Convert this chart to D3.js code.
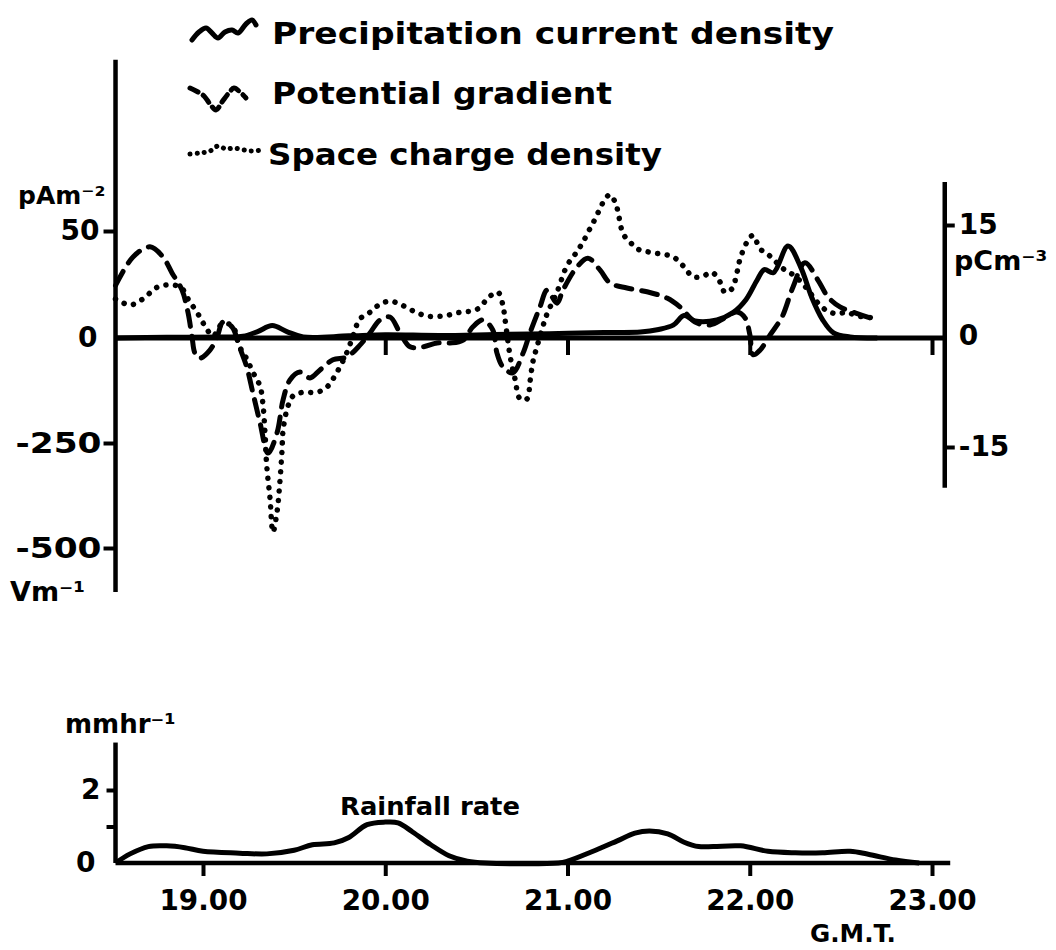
<!DOCTYPE html>
<html><head><meta charset="utf-8">
<script src="https://cdn.jsdelivr.net/npm/d3@7"></script>
<style>
body{margin:0;background:#fff}
svg{display:block}
text{font-family:"DejaVu Sans",sans-serif;font-weight:bold;fill:#000}
</style>
</head><body>
<svg id="c" width="1056" height="950"></svg>
<script>
// ---------------- data ----------------
const timeTicks = [19, 20, 21, 22, 23];
const timeTickLabels = ["19.00", "20.00", "21.00", "22.00", "23.00"];
const legendLabels = ["Precipitation current density", "Potential gradient", "Space charge density"];
const leftTicksCurrent = [0, 50];          // pA m^-2
const leftTicksPG = [-250, -500];          // V m^-1
const rightTicksSC = [15, 0, -15];         // pC m^-3
const rainTicks = [0, 1, 2];               // mm hr^-1
const rainTickLabels = ["0", "", "2"];

// precipitation current density [hour, pA m^-2]
const currentDensity = [
  [18.52,0],[18.8,0.3],[19.1,0.5],[19.22,0.8],[19.3,3],[19.38,5.8],[19.46,3],[19.55,0.5],
  [19.8,1],[20.0,1.5],[20.3,1.2],[20.6,1.6],[20.9,2],[21.2,2.6],[21.4,2.8],[21.5,4],
  [21.58,6],[21.64,10.5],[21.7,8],[21.82,8.5],[21.91,12],[21.98,18],[22.04,27],[22.08,32],
  [22.13,30.5],[22.21,43],[22.28,33],[22.34,19],[22.4,8.5],[22.46,2.4],[22.55,0.5],[22.7,0]
];
// potential gradient [hour, V m^-1]
const potentialGradient = [
  [18.52,125],[18.616,193],[18.709,217],[18.78,193],[18.83,155],[18.885,114],[18.918,60],
  [18.94,2],[18.956,-36],[18.984,-48],[19.038,-29],[19.077,2],[19.11,38],[19.16,26],[19.2,-21],
  [19.24,-69],[19.274,-131],[19.313,-202],[19.357,-274],[19.406,-226],[19.439,-148],[19.477,-100],
  [19.532,-81],[19.587,-95],[19.642,-76],[19.713,-52],[19.79,-45],[19.861,-17],[19.916,12],
  [19.971,43],[20.026,50],[20.081,12],[20.136,-21],[20.207,-21],[20.284,-12],[20.355,-12],
  [20.427,-5],[20.48,26],[20.536,43],[20.59,19],[20.613,-36],[20.646,-69],[20.70,-83],
  [20.756,-36],[20.794,12],[20.849,74],[20.888,114],[20.942,83],[20.975,114],[21.052,169],
  [21.112,190],[21.178,162],[21.233,131],[21.326,119],[21.436,110],[21.546,95],[21.617,74],
  [21.7,38],[21.782,31],[21.864,48],[21.93,62],[21.974,48],[22.001,7],[22.018,-40],[22.056,-29],
  [22.111,7],[22.177,50],[22.237,121],[22.303,179],[22.374,138],[22.429,98],[22.495,74],
  [22.578,60],[22.66,48],[22.704,43]
];
// space charge density [hour, pC m^-3]
const spaceCharge = [
  [18.52,5.0],[18.6,4.2],[18.67,5.0],[18.75,6.6],[18.835,6.9],[18.885,6.4],[18.918,5.0],
  [18.967,3.2],[19.01,1.4],[19.055,0],[19.104,1.6],[19.16,1.4],[19.2,-1.4],[19.24,-3.1],
  [19.274,-4.9],[19.313,-6.8],[19.33,-9.5],[19.34,-13],[19.35,-17.6],[19.368,-22],[19.384,-26.5],
  [19.406,-23.8],[19.42,-20.3],[19.433,-15.7],[19.44,-12.6],[19.466,-9.5],[19.494,-8.1],
  [19.549,-7.6],[19.626,-7.6],[19.68,-6.9],[19.735,-4.9],[19.79,-2.2],[19.823,0],[19.861,2.3],
  [19.916,3.2],[19.971,4.3],[20.026,4.7],[20.081,4.3],[20.152,3.4],[20.229,2.7],[20.317,2.7],
  [20.41,3.2],[20.503,3.6],[20.575,5.4],[20.619,5.9],[20.646,4.1],[20.657,2.3],[20.685,-2.7],
  [20.712,-5.8],[20.74,-8.5],[20.778,-8.5],[20.794,-6.2],[20.81,-3.5],[20.833,-1.4],[20.866,1.4],
  [20.888,3.0],[20.942,5.9],[20.997,9.5],[21.052,11.4],[21.085,12.7],[21.123,14.5],[21.151,15.8],
  [21.178,17.2],[21.206,18.5],[21.233,19.1],[21.261,18.1],[21.277,16.8],[21.288,15.4],
  [21.305,13.8],[21.343,12.7],[21.381,11.8],[21.436,11.4],[21.508,11.1],[21.579,10.7],
  [21.634,9.5],[21.689,8.0],[21.744,8.1],[21.793,8.6],[21.837,7.3],[21.864,5.9],[21.903,6.4],
  [21.93,8.6],[21.947,10.4],[21.985,12.7],[22.018,13.6],[22.056,11.8],[22.111,10.8],
  [22.183,9.1],[22.248,8.1],[22.314,6.4],[22.369,4.6],[22.424,3.4],[22.479,3.0],[22.534,3.2],
  [22.588,2.7],[22.643,2.6],[22.687,2.3]
];
// rainfall rate [hour, mm hr^-1]
const rainfall = [
  [18.52,0],[18.6,0.25],[18.7,0.45],[18.8,0.47],[18.9,0.42],[19.0,0.32],[19.2,0.27],[19.35,0.25],
  [19.5,0.35],[19.6,0.5],[19.72,0.55],[19.8,0.7],[19.9,1.05],[20.0,1.12],[20.07,1.1],[20.15,0.85],
  [20.25,0.5],[20.35,0.2],[20.45,0.05],[20.55,0],[20.95,0],[21.0,0.05],[21.13,0.3],[21.27,0.6],
  [21.37,0.82],[21.45,0.88],[21.55,0.8],[21.64,0.57],[21.72,0.45],[21.8,0.45],[21.95,0.47],
  [22.1,0.32],[22.25,0.28],[22.4,0.28],[22.55,0.32],[22.65,0.24],[22.8,0.08],[22.93,0]
];

// ---------------- layout ----------------
const svg = d3.select("#c");
const tStart = 18.52, tRightAxis = 23.07, tBottomEnd = 23.1;
const x = d3.scaleLinear().domain([19, 23]).range([203, 932]);
const yJ = d3.scaleLinear().domain([0, 50]).range([338, 231]);
const yPG = d3.scaleLinear().domain([0, -500]).range([338, 548]);
const ySC = d3.scaleLinear().domain([-15, 15]).range([447, 225]);
const yR = d3.scaleLinear().domain([0, 2]).range([863, 790]);

const STROKE = 5;
const line = (ys) => d3.line().x(d => x(d[0])).y(d => ys(d[1])).curve(d3.curveCatmullRom.alpha(0.5));

function styleAxis(g, fs) {
  g.select(".domain").remove();
  g.selectAll(".tick line").attr("stroke", "#000").attr("stroke-width", 4);
  g.selectAll(".tick text").attr("font-size", fs).attr("fill", "#000")
    .style("font-family", '"DejaVu Sans",sans-serif').style("font-weight", "bold");
}

// ---------- top panel axes ----------
const topG = svg.append("g");
topG.append("line").attr("x1", x(tStart)).attr("x2", x(tStart))
  .attr("y1", yJ(130)).attr("y2", yPG(-605)).attr("stroke", "#000").attr("stroke-width", 4.5);
topG.append("line").attr("x1", x(tStart)).attr("x2", x(tRightAxis))
  .attr("y1", yJ(0)).attr("y2", yJ(0)).attr("stroke", "#000").attr("stroke-width", 5);
topG.append("line").attr("x1", x(tRightAxis)).attr("x2", x(tRightAxis))
  .attr("y1", ySC(20.8)).attr("y2", ySC(-20.5)).attr("stroke", "#000").attr("stroke-width", 4.5);

const gl1 = topG.append("g").attr("transform", `translate(${x(tStart)},0)`)
  .call(d3.axisLeft(yJ).tickValues(leftTicksCurrent).tickSize(12).tickPadding(4).tickFormat(d3.format("d")));
styleAxis(gl1, 28);
gl1.selectAll(".tick").filter(d => d === 0).select("line").remove();
gl1.selectAll(".tick").filter(d => d === 0).select("text").attr("x", -18);
const gl2 = topG.append("g").attr("transform", `translate(${x(tStart)},0)`)
  .call(d3.axisLeft(yPG).tickValues(leftTicksPG).tickSize(12).tickPadding(2).tickFormat(d => "-" + Math.abs(d)));
styleAxis(gl2, 29);
gl2.selectAll(".tick text").attr("textLength", 86).attr("lengthAdjust", "spacingAndGlyphs");

const gr = topG.append("g").attr("transform", `translate(${x(tRightAxis)},0)`)
  .call(d3.axisRight(ySC).tickValues(rightTicksSC).tickSize(10).tickPadding(4).tickFormat(d => d < 0 ? "-" + Math.abs(d) : d));
styleAxis(gr, 28);
gr.selectAll(".tick").filter(d => d === 0).select("line").remove();
gr.selectAll(".tick").filter(d => d === 0).select("text").attr("x", 14);

const gx = topG.append("g").attr("transform", `translate(0,${yJ(0)})`)
  .call(d3.axisBottom(x).tickValues(timeTicks.slice(1)).tickSize(17).tickFormat(""));
styleAxis(gx, 10);

topG.append("text").attr("x", 18).attr("y", 204).attr("font-size", 25).text("pAm⁻²");
topG.append("text").attr("x", 10).attr("y", 601).attr("font-size", 27).text("Vm⁻¹");
topG.append("text").attr("x", 954).attr("y", 270).attr("font-size", 27).text("pCm⁻³");

// ---------- series ----------
topG.append("path").datum(spaceCharge).attr("d", line(ySC))
  .attr("fill", "none").attr("stroke", "#000").attr("stroke-width", 5.5)
  .attr("stroke-linecap", "round").attr("stroke-dasharray", "0.1 9.5");
topG.append("path").datum(potentialGradient).attr("d", line(yPG))
  .attr("fill", "none").attr("stroke", "#000").attr("stroke-width", STROKE)
  .attr("stroke-linecap", "round").attr("stroke-dasharray", "16 10");
topG.append("path").datum(currentDensity).attr("d", line(yJ))
  .attr("fill", "none").attr("stroke", "#000").attr("stroke-width", STROKE)
  .attr("stroke-linejoin", "round");

// ---------- legend ----------
const legendIcons = [
  {pts: [[0,20],[7,12],[14,8],[20,13],[26,18],[33,12],[40,10],[46,13],[54,4],[60,0],[64,5]], dash: null, w: 5},
  {pts: [[0,0],[8,4],[14,8],[20,16],[26,22],[32,14],[38,6],[44,0],[50,4],[56,10]], dash: "9 6", w: 5},
  {pts: [[0,8],[10,7],[20,5],[28,0],[36,3],[44,2],[54,4],[62,5],[72,4]], dash: "0.1 7", w: 5}
];
const legendOrigins = [[192, 20], [190, 88], [190, 146]];
const legendTextPos = [[272, 44, 562], [272, 104, 340], [268, 165, 394]];
const lg = svg.append("g");
legendIcons.forEach((ic, i) => {
  const [ox, oy] = legendOrigins[i];
  lg.append("path").datum(ic.pts)
    .attr("d", d3.line().x(d => ox + d[0]).y(d => oy + d[1]).curve(d3.curveCatmullRom))
    .attr("fill", "none").attr("stroke", "#000").attr("stroke-width", ic.w)
    .attr("stroke-linecap", "round").attr("stroke-dasharray", ic.dash);
  const [tx, ty, tl] = legendTextPos[i];
  lg.append("text").attr("x", tx).attr("y", ty).attr("font-size", 30)
    .attr("textLength", tl).attr("lengthAdjust", "spacingAndGlyphs").text(legendLabels[i]);
});

// ---------- bottom panel ----------
const bot = svg.append("g");
bot.append("line").attr("x1", x(tStart)).attr("x2", x(tStart))
  .attr("y1", yR(3.3)).attr("y2", yR(0)).attr("stroke", "#000").attr("stroke-width", 4.5);
bot.append("line").attr("x1", x(tStart)).attr("x2", x(tBottomEnd))
  .attr("y1", yR(0)).attr("y2", yR(0)).attr("stroke", "#000").attr("stroke-width", 4.5);
const gbl = bot.append("g").attr("transform", `translate(${x(tStart)},0)`)
  .call(d3.axisLeft(yR).tickValues(rainTicks).tickSize(9).tickPadding(6).tickFormat((d, i) => rainTickLabels[i]));
styleAxis(gbl, 28);
gbl.selectAll(".tick").filter(d => d === 0).select("line").remove();
gbl.selectAll(".tick").filter(d => d === 0).select("text").attr("x", -20);
const gbx = bot.append("g").attr("transform", `translate(0,${yR(0)})`)
  .call(d3.axisBottom(x).tickValues(timeTicks).tickSize(13).tickPadding(13).tickFormat((d, i) => timeTickLabels[i]));
styleAxis(gbx, 29);
gbx.selectAll(".tick text").attr("textLength", 88).attr("lengthAdjust", "spacingAndGlyphs");

bot.append("path").datum(rainfall).attr("d", line(yR))
  .attr("fill", "none").attr("stroke", "#000").attr("stroke-width", STROKE).attr("stroke-linejoin", "round");

bot.append("text").attr("x", 65).attr("y", 733).attr("font-size", 26).text("mmhr⁻¹");
bot.append("text").attr("x", 340).attr("y", 815).attr("font-size", 25)
  .attr("textLength", 180).attr("lengthAdjust", "spacingAndGlyphs").text("Rainfall rate");
bot.append("text").attr("x", 810).attr("y", 942).attr("font-size", 24)
  .attr("textLength", 86).attr("lengthAdjust", "spacingAndGlyphs").text("G.M.T.");
</script>
</body></html>
